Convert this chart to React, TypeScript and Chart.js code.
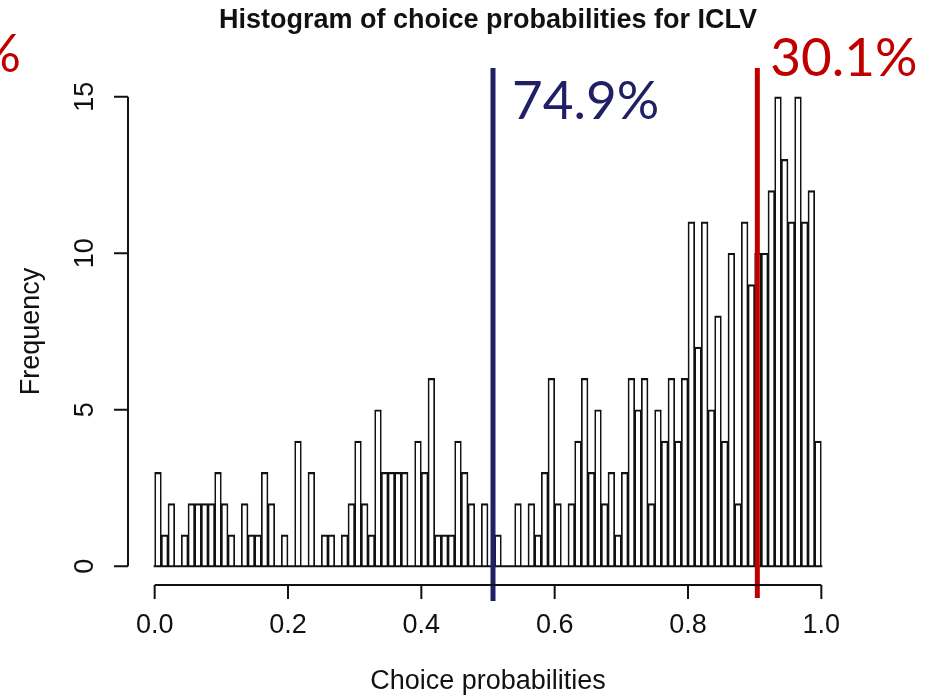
import React, { useEffect, useRef } from "react";
import { Chart, registerables } from "chart.js";

Chart.register(...registerables);

// ---- data ----
const chartTitle = "Histogram of choice probabilities for ICLV";
const xAxisTitle = "Choice probabilities";
const yAxisTitle = "Frequency";
const binWidth = 0.01;
// frequency per bin, bins [0.00,0.01), [0.01,0.02), ... [0.99,1.00]
const counts = [
  3, 1, 2, 0, 1, 2, 2, 2, 2, 3,
  2, 1, 0, 2, 1, 1, 3, 2, 0, 1,
  0, 4, 0, 3, 0, 1, 1, 0, 1, 2,
  4, 2, 1, 5, 3, 3, 3, 3, 0, 4,
  3, 6, 1, 1, 1, 4, 3, 2, 0, 2,
  0, 1, 0, 0, 2, 0, 2, 1, 3, 6,
  2, 0, 2, 4, 6, 3, 5, 2, 3, 1,
  3, 6, 5, 6, 2, 5, 4, 6, 4, 6,
  11, 7, 11, 5, 8, 4, 10, 2, 11, 9,
  10, 10, 12, 15, 13, 11, 15, 11, 12, 4,
];
const xTickValues = [0, 0.2, 0.4, 0.6, 0.8, 1.0];
const xTickLabels = ["0.0", "0.2", "0.4", "0.6", "0.8", "1.0"];
const yTickValues = [0, 5, 10, 15];
const yTickLabels = ["0", "5", "10", "15"];
const markerValues = [0.5075, 0.904];
const markerLabels = ["74.9%", "30.1%"];
const markerColors = ["#202066", "#C00000"];
const leftCutLabel = "%";

const AXIS_FONT = '"Liberation Sans", Arial, sans-serif';
const NOTE_FONT = 'Lato, "Open Sans", sans-serif';

const decorPlugin = {
  id: "decor",
  afterDatasetsDraw(chart: any) {
    const { ctx, scales } = chart;
    const x = scales.x;
    const y = scales.y;
    ctx.save();
    // baseline of histogram
    ctx.strokeStyle = "#111";
    ctx.lineWidth = 2;
    const y0 = y.getPixelForValue(0);
    ctx.beginPath();
    ctx.moveTo(x.getPixelForValue(0) - 1, y0);
    ctx.lineTo(x.getPixelForValue(1) + 1, y0);
    ctx.stroke();

    // marker lines
    const top = y.getPixelForValue(15.6) - 10;
    const bottoms = [y.getPixelForValue(-0.6) + 16, y.getPixelForValue(-0.6) + 13];
    markerValues.forEach((v, i) => {
      const px = x.getPixelForValue(v);
      ctx.strokeStyle = markerColors[i];
      ctx.lineWidth = 5;
      ctx.beginPath();
      ctx.moveTo(px, top);
      ctx.lineTo(px, bottoms[i]);
      ctx.stroke();
    });
    ctx.restore();
  },
  afterDraw(chart: any) {
    const { ctx, scales, chartArea } = chart;
    const x = scales.x;
    const y = scales.y;
    ctx.save();
    ctx.strokeStyle = "#111";
    ctx.fillStyle = "#111";
    ctx.lineWidth = 2;

    // x axis
    const xAxisY = chartArea.bottom;
    ctx.beginPath();
    ctx.moveTo(x.getPixelForValue(xTickValues[0]), xAxisY);
    ctx.lineTo(x.getPixelForValue(xTickValues[xTickValues.length - 1]), xAxisY);
    xTickValues.forEach((v) => {
      const px = x.getPixelForValue(v);
      ctx.moveTo(px, xAxisY);
      ctx.lineTo(px, xAxisY + 14);
    });
    ctx.stroke();
    ctx.font = `27px ${AXIS_FONT}`;
    ctx.textAlign = "center";
    ctx.textBaseline = "middle";
    xTickValues.forEach((v, i) => {
      ctx.fillText(xTickLabels[i], x.getPixelForValue(v), xAxisY + 41);
    });

    // y axis
    const yAxisX = chartArea.left;
    ctx.beginPath();
    ctx.moveTo(yAxisX, y.getPixelForValue(yTickValues[0]));
    ctx.lineTo(yAxisX, y.getPixelForValue(yTickValues[yTickValues.length - 1]));
    yTickValues.forEach((v) => {
      const py = y.getPixelForValue(v);
      ctx.moveTo(yAxisX, py);
      ctx.lineTo(yAxisX - 14, py);
    });
    ctx.stroke();
    yTickValues.forEach((v, i) => {
      const py = y.getPixelForValue(v);
      ctx.save();
      ctx.translate(yAxisX - 42, py);
      ctx.rotate(-Math.PI / 2);
      ctx.fillText(yTickLabels[i], 0, 0);
      ctx.restore();
    });

    // axis titles
    ctx.fillText(xAxisTitle, (chartArea.left + chartArea.right) / 2, 682);
    ctx.save();
    ctx.translate(32, (chartArea.top + chartArea.bottom) / 2);
    ctx.rotate(-Math.PI / 2);
    ctx.fillText(yAxisTitle, 0, 0);
    ctx.restore();

    // main title
    ctx.font = `bold 27px ${AXIS_FONT}`;
    ctx.fillText(chartTitle, (chartArea.left + chartArea.right) / 2, 21);

    // annotations
    ctx.font = `53px ${NOTE_FONT}`;
    ctx.textAlign = "left";
    ctx.textBaseline = "alphabetic";
    ctx.fillStyle = markerColors[0];
    ctx.fillText(markerLabels[0], x.getPixelForValue(markerValues[0]) + 19, 119);
    ctx.fillStyle = markerColors[1];
    ctx.fillText(markerLabels[1], x.getPixelForValue(markerValues[1]) + 13, 76);
    ctx.textAlign = "right";
    ctx.fillText(leftCutLabel, 21, 72);
    ctx.restore();
  },
};

export default function App() {
  const canvasRef = useRef<HTMLCanvasElement>(null);

  useEffect(() => {
    if (!canvasRef.current) return;
    const data = counts.map((c, i) => ({ x: (i + 0.5) * binWidth, y: c }));
    const chart = new Chart(canvasRef.current, {
      type: "bar",
      data: {
        datasets: [
          {
            data,
            backgroundColor: "rgba(255,255,255,0)",
            borderColor: "#111",
            borderWidth: { top: 1.5, left: 1, right: 1, bottom: 0 },
            borderSkipped: false,
            inflateAmount: 0.35,
            barPercentage: 1,
            categoryPercentage: 1,
          } as any,
        ],
      },
      options: {
        responsive: false,
        animation: false,
        devicePixelRatio: 1,
        layout: { padding: { left: 128, right: 81, top: 78, bottom: 111 } },
        plugins: {
          legend: { display: false },
          tooltip: { enabled: false },
          title: { display: false },
        },
        scales: {
          x: {
            type: "linear",
            min: -0.04,
            max: 1.04,
            offset: false,
            display: false,
          },
          y: {
            type: "linear",
            min: -0.6,
            max: 15.6,
            display: false,
          },
        },
      },
      plugins: [decorPlugin],
    });
    return () => chart.destroy();
  }, []);

  return (
    <div style={{ position: "absolute", left: 0, top: 0, width: 929, height: 696, background: "#fff" }}>
      <canvas ref={canvasRef} width={929} height={696} style={{ display: "block" }} />
    </div>
  );
}
